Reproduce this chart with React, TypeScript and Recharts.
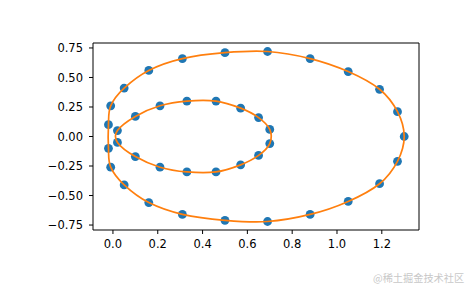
import { ComposedChart, Scatter, XAxis, YAxis, ReferenceLine } from 'recharts';

// outer ellipse, ordered around the loop
const outerX = [1.30, 1.27, 1.19, 1.05, 0.88, 0.69, 0.50, 0.31, 0.16, 0.05, -0.01, -0.02, -0.02, -0.01, 0.05, 0.16, 0.31, 0.50, 0.69, 0.88, 1.05, 1.19, 1.27];
const outerY = [0.0, 0.21, 0.40, 0.55, 0.66, 0.72, 0.71, 0.66, 0.56, 0.41, 0.26, 0.10, -0.10, -0.26, -0.41, -0.56, -0.66, -0.71, -0.72, -0.66, -0.55, -0.40, -0.21];

// inner ellipse
const innerX = [0.70, 0.65, 0.57, 0.46, 0.33, 0.21, 0.10, 0.02, 0.02, 0.10, 0.21, 0.33, 0.46, 0.57, 0.65, 0.70];
const innerY = [0.06, 0.16, 0.24, 0.30, 0.30, 0.26, 0.17, 0.05, -0.05, -0.17, -0.26, -0.30, -0.30, -0.24, -0.16, -0.06];

const xTicks = [0, 0.2, 0.4, 0.6, 0.8, 1.0, 1.2];
const yTicks = [-0.75, -0.5, -0.25, 0, 0.25, 0.5, 0.75];
const xDomain = [-0.089, 1.366];
const yDomain = [-0.792, 0.792];

const toPoints = (xs: number[], ys: number[]) => xs.map((x, i) => ({ x, y: ys[i] }));
const outer = toPoints(outerX, outerY);
const inner = toPoints(innerX, innerY);

const BLUE = '#1f77b4';
const ORANGE = '#ff7f0e';
const FONT = '"DejaVu Sans", sans-serif';

// closed catmull-rom curve so the loop has no kink where it closes
function closedSmooth(context: any) {
    let pts: [number, number][] = [];
    return {
        areaStart() {},
        areaEnd() {},
        lineStart() { pts = []; },
        point(x: number, y: number) { pts.push([+x, +y]); },
        lineEnd() {
            const n = pts.length;
            if (n < 3) return;
            context.moveTo(pts[0][0], pts[0][1]);
            for (let i = 0; i < n; i++) {
                const p0 = pts[(i - 1 + n) % n];
                const p1 = pts[i];
                const p2 = pts[(i + 1) % n];
                const p3 = pts[(i + 2) % n];
                context.bezierCurveTo(
                    p1[0] + (p2[0] - p0[0]) / 6, p1[1] + (p2[1] - p0[1]) / 6,
                    p2[0] - (p3[0] - p1[0]) / 6, p2[1] - (p3[1] - p1[1]) / 6,
                    p2[0], p2[1]
                );
            }
            context.closePath();
        },
    };
}

const fmtX = (v: number) => v.toFixed(1);
const fmtY = (v: number) => v.toFixed(2).replace('-', '\u2212');

const dot = (p: any) => <circle cx={p.cx} cy={p.cy} r={4.4} fill={BLUE} />;
const noDot = () => <g />;

const tickStyle = { fill: '#000', fontSize: 11.5, fontFamily: FONT };
const lineStyle = { stroke: ORANGE, strokeWidth: 1.7, fill: 'none' };

const App = () => {
    return (
        <div style={{ position: 'absolute', left: 0, top: 0, width: 465, height: 288, background: '#fff', overflow: 'hidden' }}>
            <ComposedChart width={465} height={288} margin={{ top: 43, right: 46, bottom: 28, left: 0 }}>
                <XAxis
                    type="number"
                    dataKey="x"
                    domain={xDomain}
                    allowDataOverflow
                    ticks={xTicks}
                    tickFormatter={fmtX}
                    height={30}
                    stroke="#000"
                    tickSize={4}
                    tickMargin={6}
                    tick={tickStyle}
                />
                <YAxis
                    type="number"
                    dataKey="y"
                    domain={yDomain}
                    allowDataOverflow
                    ticks={yTicks}
                    tickFormatter={fmtY}
                    width={93}
                    stroke="#000"
                    tickSize={4}
                    tickMargin={6}
                    tick={tickStyle}
                />
                {/* top and right edges of the frame */}
                <ReferenceLine x={xDomain[1]} stroke="#000" strokeWidth={1} />
                <ReferenceLine y={yDomain[1]} stroke="#000" strokeWidth={1} />
                <Scatter data={outer} shape={dot} isAnimationActive={false} />
                <Scatter data={inner} shape={dot} isAnimationActive={false} />
                <Scatter data={outer} shape={noDot} line={lineStyle} lineJointType={closedSmooth as any} isAnimationActive={false} />
                <Scatter data={inner} shape={noDot} line={lineStyle} lineJointType={closedSmooth as any} isAnimationActive={false} />
            </ComposedChart>
            <div style={{ position: 'absolute', left: 373, top: 271, fontSize: 10.2, color: '#c8c8c8', fontFamily: '"Noto Sans CJK SC", sans-serif', whiteSpace: 'nowrap', lineHeight: '14px' }}>
                @稀土掘金技术社区
            </div>
        </div>
    );
};

export default App;
